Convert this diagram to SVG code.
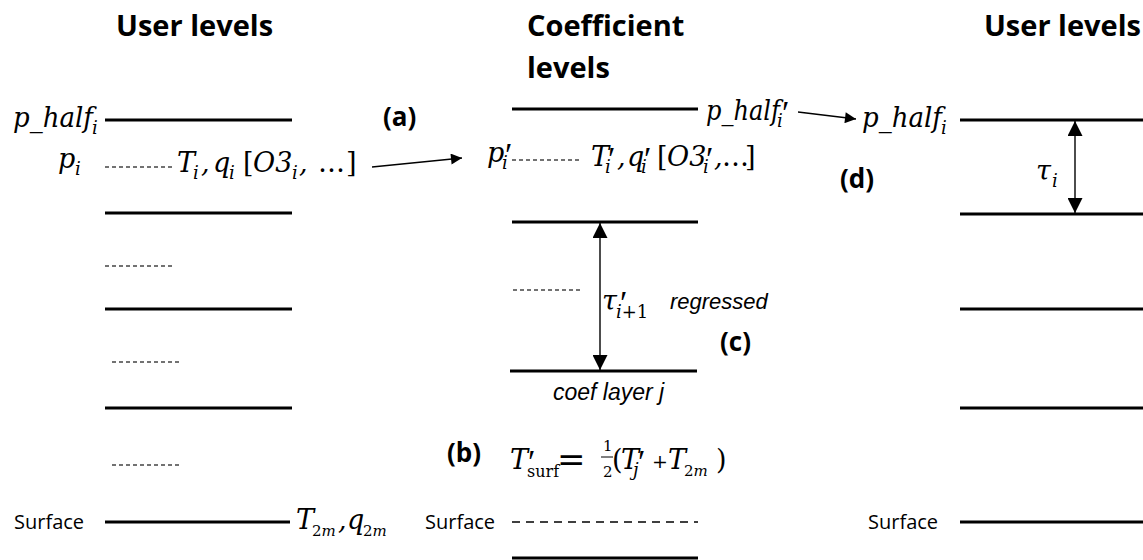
<svg xmlns="http://www.w3.org/2000/svg" width="1143" height="560" viewBox="0 0 1143 560">
<style>
.h{font-family:"Open Sans",sans-serif;font-weight:bold;font-size:29px;fill:#000}
.lbl{font-family:"Open Sans",sans-serif;font-weight:bold;font-size:26px;fill:#000}
.s{font-family:"Open Sans",sans-serif;font-size:20px;fill:#000}
.it{font-family:"Liberation Sans",Arial,sans-serif;font-style:italic;font-size:22px;fill:#000}
.m{font-family:"DejaVu Serif",serif;font-style:italic;font-size:27px;fill:#000}
.u{font-style:normal}
.sub{font-size:18px}
.sm{font-size:15px}
.pr{font-family:"Liberation Serif",serif;font-style:normal;font-size:34px}
.lv{stroke:#000;stroke-width:3;fill:none}
.dl{stroke:#444;stroke-width:1.3;stroke-dasharray:4 3;fill:none}
.ds{stroke:#000;stroke-width:1.6;stroke-dasharray:8 6;fill:none}
.ar{stroke:#000;stroke-width:1.4;fill:none}
</style>
<defs>
<marker id="ah" viewBox="0 0 10 10" refX="10" refY="5" markerUnits="userSpaceOnUse" markerWidth="16" markerHeight="11" orient="auto-start-reverse"><path d="M0,0 L10,5 L0,10 z" fill="#000"/></marker>
<marker id="dh" viewBox="0 0 10 10" refX="10" refY="5" markerUnits="userSpaceOnUse" markerWidth="15" markerHeight="15" orient="auto-start-reverse"><path d="M0,0 L10,5 L0,10 z" fill="#000"/></marker>
</defs>

<g id="headers">
<text class="h" x="116" y="36">User levels</text>
<text class="h" x="527" y="36">Coefficient</text>
<text class="h" x="527" y="78">levels</text>
<text class="h" x="1141" y="36" text-anchor="end">User levels</text>
</g>

<g id="user-levels-left">
<text class="m"><tspan x="13" y="127" textLength="80" lengthAdjust="spacingAndGlyphs">p_half</tspan><tspan class="sub" x="92" y="134">i</tspan></text>
<line class="lv" x1="105" y1="120" x2="292" y2="120"/>
<text class="m"><tspan x="58" y="168">p</tspan><tspan class="sub" x="75" y="175">i</tspan></text>
<line class="dl" x1="105" y1="167" x2="173" y2="167"/>
<text class="m"><tspan x="177" y="172">T</tspan><tspan class="sub" x="193" y="179">i</tspan><tspan x="201" y="172">,</tspan><tspan x="213" y="172">q</tspan><tspan class="sub" x="229" y="179">i</tspan><tspan class="u" x="243" y="172">[</tspan><tspan x="253" y="172">O3</tspan><tspan class="sub" x="292" y="179">i</tspan><tspan x="299" y="172">,</tspan><tspan class="u" x="318" y="172">…</tspan><tspan class="u" x="346" y="172">]</tspan></text>
<line class="lv" x1="105" y1="213" x2="292" y2="213"/>
<line class="dl" x1="105" y1="266" x2="173" y2="266"/>
<line class="lv" x1="105" y1="309" x2="292" y2="309"/>
<line class="dl" x1="112" y1="362" x2="180" y2="362"/>
<line class="lv" x1="105" y1="408" x2="292" y2="408"/>
<line class="dl" x1="112" y1="465" x2="180" y2="465"/>
<text class="s" x="14" y="529">Surface</text>
<line class="lv" x1="105" y1="522" x2="290" y2="522"/>
<text class="m"><tspan x="296" y="529">T</tspan><tspan class="sm u" x="312" y="536">2</tspan><tspan class="sm">m</tspan><tspan x="338" y="529">,</tspan><tspan x="347" y="529">q</tspan><tspan class="sm u" x="363" y="536">2</tspan><tspan class="sm">m</tspan></text>
</g>

<g id="coefficient-levels">
<line class="lv" x1="512" y1="109" x2="698" y2="109"/>
<text class="m"><tspan x="706" y="120" textLength="74" lengthAdjust="spacingAndGlyphs">p_half</tspan><tspan class="pr" x="782" y="124">′</tspan><tspan class="sub" x="777" y="127">i</tspan></text>
<text class="m"><tspan x="487" y="162">p</tspan><tspan class="pr" x="505" y="166">′</tspan><tspan class="sub" x="502" y="169">i</tspan></text>
<line class="dl" x1="512" y1="160" x2="580" y2="160"/>
<text class="m"><tspan x="591" y="166">T</tspan><tspan class="pr" x="608" y="170">′</tspan><tspan class="sub" x="605" y="173">i</tspan><tspan x="617" y="166">,</tspan><tspan x="627" y="166">q</tspan><tspan class="pr" x="644" y="170">′</tspan><tspan class="sub" x="641" y="173">i</tspan><tspan class="u" x="657" y="166">[</tspan><tspan x="667" y="166">O3</tspan><tspan class="pr" x="706" y="170">′</tspan><tspan class="sub" x="703" y="173">i</tspan><tspan x="714" y="166">,</tspan><tspan class="u" x="722" y="166">…</tspan><tspan class="u" x="745" y="166">]</tspan></text>
<line class="lv" x1="512" y1="222" x2="698" y2="222"/>
<line class="dl" x1="513" y1="290" x2="580" y2="290"/>
<text class="m"><tspan x="602" y="310">τ</tspan><tspan class="pr" x="620" y="314">′</tspan><tspan class="sub" x="616" y="318">i</tspan><tspan class="sub u">+1</tspan></text>
<text class="it" x="670" y="309">regressed</text>
<line class="lv" x1="510" y1="371" x2="697" y2="371"/>
<text class="it" x="553" y="400" style="font-size:23px">coef layer j</text>
<text class="m"><tspan x="510" y="469">T</tspan><tspan class="pr" x="528" y="473">′</tspan><tspan class="u" x="527" y="477" style="font-size:16px">surf</tspan><tspan class="u" x="557" y="471" style="font-size:34px">=</tspan><tspan class="u" x="603" y="451" style="font-size:15px">1</tspan><tspan class="u" x="603" y="477" style="font-size:15px">2</tspan><tspan class="u" x="612" y="469">(</tspan><tspan x="621" y="469">T</tspan><tspan class="pr" x="638" y="473">′</tspan><tspan class="sub" x="633" y="476">j</tspan><tspan class="u" x="652" y="468" style="font-size:19px">+</tspan><tspan x="668" y="469">T</tspan><tspan class="sm u" x="684" y="476">2</tspan><tspan class="sm">m</tspan><tspan class="u" x="716" y="469">)</tspan></text>
<line x1="601" y1="457" x2="613" y2="457" stroke="#000" stroke-width="1"/>
<text class="s" x="425" y="529">Surface</text>
<line class="ds" x1="512" y1="522" x2="698" y2="522"/>
<line class="lv" x1="512" y1="558" x2="698" y2="558"/>
</g>

<g id="user-levels-right">
<text class="m"><tspan x="862" y="127" textLength="80" lengthAdjust="spacingAndGlyphs">p_half</tspan><tspan class="sub" x="941" y="134">i</tspan></text>
<line class="lv" x1="960" y1="120" x2="1143" y2="120"/>
<line class="lv" x1="960" y1="214" x2="1143" y2="214"/>
<text class="m"><tspan x="1036" y="180">τ</tspan><tspan class="sub" x="1052" y="187">i</tspan></text>
<line class="lv" x1="960" y1="309" x2="1143" y2="309"/>
<line class="lv" x1="960" y1="408" x2="1143" y2="408"/>
<text class="s" x="868" y="529">Surface</text>
<line class="lv" x1="960" y1="522" x2="1143" y2="522"/>
</g>

<g id="labels">
<text class="lbl" x="383" y="126">(a)</text>
<text class="lbl" x="447" y="462">(b)</text>
<text class="lbl" x="720" y="351">(c)</text>
<text class="lbl" x="840" y="188">(d)</text>
</g>

<g id="connectors">
<line class="ar" x1="372" y1="167" x2="462" y2="158" marker-end="url(#ah)"/>
<line class="ar" x1="798" y1="112" x2="856" y2="119" marker-end="url(#ah)"/>
<line class="ar" x1="600" y1="223" x2="600" y2="370" marker-start="url(#dh)" marker-end="url(#dh)"/>
<line class="ar" x1="1075" y1="121" x2="1075" y2="213" marker-start="url(#dh)" marker-end="url(#dh)"/>
</g>
</svg>
